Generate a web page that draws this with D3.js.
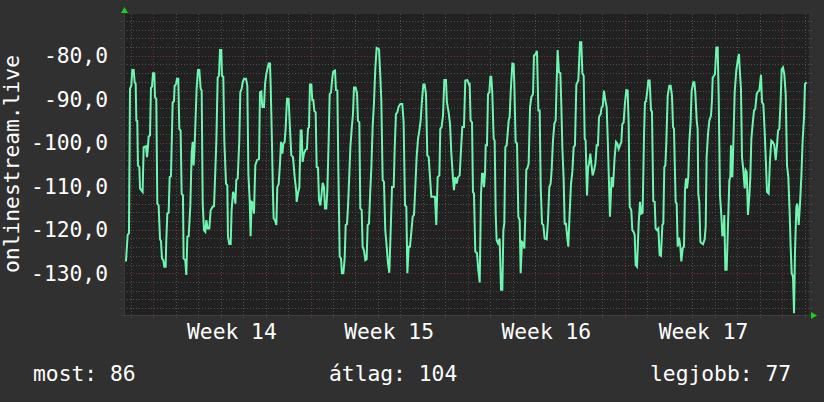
<!DOCTYPE html>
<html><head><meta charset="utf-8">
<script src="https://cdn.jsdelivr.net/npm/d3@7"></script>
<style>
html,body{margin:0;padding:0;background:#303030;}
svg{display:block;}
text{font-family:"DejaVu Sans Mono",monospace;fill:#ffffff;}
</style></head><body>
<svg id="c" width="824" height="402"></svg>
<script>
// ---- data ----
const yTicks = [-80, -90, -100, -110, -120, -130];
const weekStarts = [0, 168, 336, 504, 672];           // hours since start of Week 14
const weekLabels = ["Week 14", "Week 15", "Week 16", "Week 17"];
const yTitle = "onlinestream.live";
const summaryLabels = ["most", "átlag", "legjobb"];
const summaryValues = [86, 104, 77];
const timeDomain = [-31.3, 700.7];                    // hours
const valueDomain = [-139.6, -70.4];
// [hour, value]
const samples = [
[-29.2,-127.3],[-27.4,-121.2],[-26.0,-120.8],[-24.9,-87.6],[-23.5,-86.9],[-22.4,-83.3],[-21.0,-83.3],[-19.9,-86.1],[-18.8,-86.5],[-18.1,-94.9],[-17.1,-95.0],[-16.4,-105.2],[-14.9,-105.6],[-14.2,-110.5],[-11.4,-111.3],[-10.3,-101.0],[-7.8,-100.8],[-6.7,-103.3],[-5.7,-101.0],[-5.0,-98.6],[-3.5,-98.3],[-2.5,-87.4],[-1.4,-87.1],[-0.3,-84.0],[1.1,-84.0],[1.8,-89.5],[3.2,-89.9],[4.3,-114.0],[5.7,-114.4],[7.2,-122.2],[8.2,-122.6],[9.3,-126.6],[10.7,-127.0],[11.8,-128.5],[13.2,-128.5],[13.9,-122.4],[15.0,-116.3],[16.4,-116.1],[17.5,-107.9],[18.9,-107.7],[20.7,-90.7],[22.1,-90.5],[22.8,-86.9],[24.3,-86.5],[25.3,-85.3],[26.7,-85.3],[27.8,-96.8],[29.2,-97.2],[30.3,-111.7],[31.7,-112.1],[32.4,-126.6],[34.2,-127.0],[35.3,-130.4],[36.4,-121.6],[37.8,-121.5],[39.6,-114.4],[41.0,-102.5],[42.1,-99.8],[43.1,-105.2],[44.2,-100.6],[46.3,-87.6],[47.8,-83.3],[49.2,-83.3],[50.6,-87.6],[51.7,-88.0],[52.8,-114.0],[54.2,-120.1],[55.6,-120.5],[56.7,-117.8],[58.1,-119.7],[59.9,-119.7],[61.3,-115.5],[63.4,-114.7],[64.9,-114.6],[66.3,-106.3],[67.4,-99.5],[68.8,-85.0],[70.2,-84.6],[71.3,-78.7],[72.7,-78.7],[73.4,-84.6],[74.8,-84.8],[75.9,-99.5],[77.7,-109.4],[79.1,-109.8],[79.8,-121.6],[81.2,-123.3],[82.7,-123.3],[83.7,-115.5],[85.2,-111.3],[86.6,-112.1],[87.7,-114.0],[88.7,-108.6],[90.2,-108.2],[91.9,-99.5],[93.0,-88.4],[94.4,-87.6],[95.5,-86.1],[96.9,-85.3],[99.1,-85.3],[100.5,-86.9],[101.6,-107.1],[103.0,-113.2],[104.0,-121.5],[105.1,-113.6],[106.5,-113.8],[107.6,-116.3],[109.0,-105.2],[110.8,-104.0],[113.0,-103.7],[114.0,-88.4],[115.4,-88.2],[116.5,-91.8],[118.3,-91.8],[119.4,-86.5],[120.8,-84.2],[123.3,-81.8],[124.7,-81.8],[125.4,-86.5],[126.8,-99.8],[127.9,-111.7],[128.6,-117.4],[130.1,-117.8],[131.5,-118.9],[132.5,-110.2],[134.0,-109.5],[135.4,-104.8],[136.5,-99.8],[137.9,-102.5],[139.0,-100.2],[140.4,-99.8],[141.4,-96.8],[142.9,-89.9],[144.6,-89.9],[146.1,-96.8],[147.5,-102.9],[149.3,-103.3],[151.1,-107.9],[152.8,-111.3],
[153.2,-113.6],[154.6,-111.7],[156.1,-110.2],[157.5,-97.2],[158.5,-97.2],[159.6,-104.4],[161.0,-102.5],[162.8,-101.6],[164.2,-101.4],[165.3,-96.8],[166.4,-96.4],[167.4,-86.6],[168.9,-86.6],[169.9,-90.2],[171.0,-90.2],[172.1,-92.7],[173.5,-93.0],[174.6,-105.6],[176.0,-105.7],[177.1,-113.2],[178.5,-114.4],[179.6,-112.3],[181.0,-109.2],[182.4,-110.2],[183.5,-115.1],[184.9,-115.1],[186.0,-110.9],[187.4,-99.5],[188.5,-88.8],[189.9,-88.4],[191.3,-85.0],[192.4,-83.6],[194.2,-83.4],[195.2,-87.9],[196.7,-88.0],[197.7,-105.2],[199.2,-126.2],[200.6,-126.6],[201.6,-130.0],[203.1,-130.0],[204.5,-126.6],[205.6,-118.9],[207.0,-118.7],[208.1,-114.6],[209.5,-107.1],[210.6,-101.0],[212.0,-96.8],[213.4,-93.4],[214.5,-87.3],[216.2,-87.3],[217.7,-88.6],[218.7,-94.9],[220.2,-95.3],[221.2,-115.1],[222.7,-115.5],[223.7,-123.9],[225.2,-124.8],[226.6,-127.0],[228.0,-126.8],[229.1,-118.9],[230.5,-118.6],[231.9,-110.9],[233.0,-105.9],[234.4,-96.4],[235.8,-90.9],[237.3,-82.7],[238.7,-78.2],[241.2,-78.5],[242.6,-84.6],[243.7,-90.5],[245.1,-108.6],[246.5,-109.0],[247.9,-120.1],[249.4,-123.9],[250.8,-127.7],[252.2,-129.9],[253.6,-120.8],[255.1,-110.2],[256.9,-110.2],[257.9,-101.8],[259.3,-93.4],[260.8,-93.0],[262.2,-91.7],[264.0,-91.1],[266.1,-91.1],[267.5,-95.3],[269.0,-114.4],[270.4,-114.7],[271.5,-130.0],[272.9,-123.9],[274.3,-123.9],[277.2,-117.0],[278.6,-116.6],[280.0,-110.2],[281.4,-103.3],[282.9,-99.1],[284.3,-97.2],[285.7,-94.9],[287.1,-90.3],[288.6,-86.6],[290.0,-86.6],[291.4,-88.8],[292.8,-102.9],[294.3,-103.3],[295.7,-107.9],[297.1,-112.4],[301.0,-112.4],[302.4,-118.9],[303.9,-107.9],[305.7,-107.5],[306.7,-96.8],[308.1,-96.4],[309.6,-93.7],[311.0,-85.6],[312.8,-85.6],[313.8,-90.7],[315.6,-93.0],[317.1,-95.7],[318.5,-102.5],[320.3,-108.2],[321.3,-110.9],[322.7,-107.9],[324.2,-109.4],[325.6,-107.9],[327.4,-107.5],[328.8,-101.8],[330.2,-96.4],[332.0,-96.4],[333.4,-85.7],[335.6,-85.6],[337.4,-86.6],
[338.1,-86.5],[339.1,-94.9],[340.6,-95.3],[341.6,-111.3],[342.7,-111.7],[344.1,-125.0],[345.9,-125.4],[347.3,-129.2],[348.8,-132.1],[350.2,-111.7],[351.3,-107.1],[352.3,-107.1],[353.4,-110.2],[354.5,-107.1],[355.2,-100.6],[356.6,-100.6],[357.7,-88.8],[359.1,-88.4],[360.2,-84.8],[361.2,-84.8],[362.3,-88.8],[363.7,-99.1],[364.8,-99.5],[365.9,-116.3],[366.9,-122.4],[368.4,-123.1],[370.1,-122.0],[371.6,-133.8],[373.0,-133.8],[374.1,-120.1],[375.1,-118.6],[376.2,-101.0],[377.6,-100.6],[378.7,-97.8],[379.8,-94.9],[380.8,-94.1],[381.9,-88.4],[383.7,-81.8],[385.1,-81.9],[385.8,-86.5],[387.2,-99.8],[388.7,-100.2],[390.1,-117.0],[391.5,-117.8],[392.6,-130.0],[394.0,-122.8],[395.1,-123.0],[396.5,-124.3],[397.6,-116.3],[398.6,-106.2],[399.7,-105.9],[401.1,-104.8],[402.6,-91.8],[404.0,-89.5],[405.8,-88.8],[406.8,-80.0],[408.6,-79.6],[410.0,-78.9],[411.5,-92.6],[412.9,-92.6],[414.0,-110.2],[415.4,-118.6],[416.8,-118.9],[418.2,-122.0],[420.4,-122.2],[421.8,-117.8],[423.2,-110.2],[424.6,-109.4],[425.7,-106.3],[427.1,-99.5],[428.6,-95.6],[430.0,-94.9],[431.1,-85.7],[432.1,-78.7],[433.5,-83.8],[435.0,-84.0],[436.0,-91.1],[437.1,-101.0],[438.5,-108.2],[439.6,-118.6],[441.0,-118.6],[442.1,-121.2],[443.5,-123.9],[444.9,-116.3],[446.4,-109.4],[447.8,-106.7],[449.2,-101.0],[450.6,-100.6],[452.1,-86.6],[454.2,-85.7],[456.0,-76.9],[457.4,-76.9],[458.5,-84.0],[459.9,-84.6],[461.0,-99.1],[462.0,-99.5],[463.5,-112.1],[464.5,-105.9],[465.6,-104.8],[467.0,-102.5],[468.1,-104.8],[469.5,-107.5],[471.0,-106.3],[472.4,-104.8],[473.8,-100.6],[475.2,-100.6],[476.3,-94.1],[478.1,-93.4],[479.1,-91.8],[480.2,-91.7],[481.6,-88.0],[483.1,-90.3],[484.5,-91.8],[485.9,-101.0],[488.0,-117.0],[489.8,-107.9],[491.2,-110.2],[493.0,-103.3],[494.5,-99.8],[495.9,-100.2],[497.3,-101.4],[498.7,-100.6],[500.2,-99.8],[501.2,-95.7],[502.6,-95.3],[504.1,-90.7],[505.5,-87.9],[506.9,-88.0],[508.0,-95.7],[509.1,-114.7],[510.8,-115.5],[511.9,-120.1],[513.3,-120.5],[514.4,-121.2],[515.5,-128.1],[516.9,-128.5],[518.7,-118.6],[520.1,-113.6],
[521.5,-116.3],[522.9,-116.1],[524.4,-98.3],[525.4,-90.7],[526.5,-90.5],[527.9,-88.0],[529.0,-85.7],[530.4,-85.7],[531.9,-92.6],[532.9,-92.8],[534.3,-113.4],[535.8,-113.6],[536.8,-119.7],[538.3,-120.1],[539.7,-119.7],[541.1,-125.8],[542.5,-126.0],[544.0,-118.9],[545.0,-118.6],[546.1,-105.6],[547.2,-105.2],[548.2,-100.2],[549.7,-89.2],[551.4,-86.9],[552.9,-86.9],[554.3,-89.2],[555.4,-96.4],[556.4,-96.8],[558.2,-113.6],[559.3,-114.0],[560.4,-123.9],[561.8,-121.8],[563.2,-123.9],[564.3,-127.3],[565.7,-124.3],[567.1,-123.9],[568.2,-110.9],[569.3,-108.2],[570.3,-110.5],[571.7,-107.9],[572.8,-99.8],[574.2,-95.3],[575.3,-88.0],[577.1,-86.1],[578.2,-86.1],[579.2,-88.4],[580.7,-94.9],[581.7,-96.8],[582.4,-111.7],[583.5,-113.8],[584.6,-122.8],[586.0,-123.1],[587.4,-123.3],[589.2,-122.2],[590.3,-119.3],[591.3,-103.3],[592.8,-97.9],[594.2,-94.9],[596.0,-93.7],[597.0,-90.3],[597.8,-85.0],[599.2,-84.6],[600.2,-84.2],[601.7,-78.1],[603.1,-78.1],[604.2,-89.5],[605.6,-112.1],[607.0,-116.6],[608.1,-121.5],[609.2,-120.8],[610.2,-116.6],[611.3,-129.2],[612.7,-129.2],[614.1,-119.3],[615.6,-108.6],[616.6,-107.9],[617.3,-100.6],[618.8,-107.9],[619.8,-100.6],[621.3,-88.4],[623.0,-83.4],[624.5,-81.1],[625.9,-79.6],[626.6,-82.8],[628.0,-87.6],[629.1,-103.3],[630.5,-106.3],[632.0,-110.5],[633.0,-106.3],[634.1,-106.7],[635.5,-116.6],[636.9,-112.4],[638.0,-107.9],[639.1,-99.1],[640.5,-95.7],[641.9,-92.6],[643.3,-92.2],[644.8,-88.8],[646.2,-88.2],[647.6,-88.0],[649.4,-84.4],[650.5,-90.7],[651.9,-91.1],[653.3,-97.2],[654.7,-104.8],[655.8,-111.3],[657.6,-111.7],[659.0,-104.0],[660.4,-99.5],[661.9,-99.8],[663.6,-100.6],[665.1,-104.0],[666.5,-100.6],[667.6,-97.2],[669.0,-96.8],[670.4,-90.3],[671.5,-83.1],[672.9,-82.7],[674.3,-84.2],[675.8,-88.8],[677.2,-105.2],[678.6,-107.9],[680.0,-115.9],[681.1,-123.9],[682.2,-130.0],[683.6,-130.8],[684.7,-139.2],[685.7,-125.4],[687.2,-114.7],[688.2,-114.0],[689.7,-118.9],[691.1,-114.0],[692.5,-107.9],[693.9,-99.5],[695.4,-94.1],[696.4,-86.5],[698.2,-86.1]
];

// ---- layout ----
const plot = {left: 124, right: 809, top: 14, bottom: 315};
const svg = d3.select("#c");
svg.append("rect").attr("width", 824).attr("height", 402).attr("fill", "#303030");

const x = d3.scaleLinear().domain(timeDomain).range([plot.left, plot.right]);
const y = d3.scaleLinear().domain(valueDomain).range([plot.bottom, plot.top]);

svg.append("rect").attr("x", plot.left).attr("y", plot.top)
  .attr("width", plot.right - plot.left).attr("height", plot.bottom - plot.top)
  .attr("fill", "#212121");

const grid = svg.append("g").attr("shape-rendering", "crispEdges");
const minorColor = "#4e4e4e", majorColor = "#6e3434";
const dash = "1,2";

// minor horizontal lines every 2 units
const minorY = d3.range(-138, -70, 2).filter(v => !yTicks.includes(v));
grid.selectAll(".hmin").data(minorY).join("line")
  .attr("x1", plot.left - 3).attr("x2", plot.right + 3)
  .attr("y1", d => Math.round(y(d)) + 0.5).attr("y2", d => Math.round(y(d)) + 0.5)
  .attr("stroke", minorColor).attr("stroke-dasharray", dash);
// minor vertical lines every 24 h
const minorX = d3.range(-24, 700, 24).filter(h => !weekStarts.includes(h));
grid.selectAll(".vmin").data(minorX).join("line")
  .attr("y1", plot.top).attr("y2", plot.bottom + 3)
  .attr("x1", d => Math.round(x(d)) + 0.5).attr("x2", d => Math.round(x(d)) + 0.5)
  .attr("stroke", minorColor).attr("stroke-dasharray", dash);
// major lines
grid.selectAll(".hmaj").data(yTicks).join("line")
  .attr("x1", plot.left - 3).attr("x2", plot.right + 3)
  .attr("y1", d => Math.round(y(d)) + 0.5).attr("y2", d => Math.round(y(d)) + 0.5)
  .attr("stroke", majorColor).attr("stroke-dasharray", dash);
grid.selectAll(".vmaj").data(weekStarts).join("line")
  .attr("y1", plot.top).attr("y2", plot.bottom + 3)
  .attr("x1", d => Math.round(x(d)) + 0.5).attr("x2", d => Math.round(x(d)) + 0.5)
  .attr("stroke", majorColor).attr("stroke-dasharray", dash);

// axis lines
grid.append("line").attr("x1", plot.left - 3).attr("x2", plot.right + 2)
  .attr("y1", plot.bottom + 0.5).attr("y2", plot.bottom + 0.5).attr("stroke", "#3f3f3f");
grid.append("line").attr("x1", plot.left + 0.5).attr("x2", plot.left + 0.5)
  .attr("y1", plot.top - 2).attr("y2", plot.bottom + 3).attr("stroke", "#3a3a3a");

// arrows
svg.append("polygon").attr("fill", "#19d219")
  .attr("points", `${plot.left - 3},${plot.top - 1} ${plot.left + 4},${plot.top - 1} ${plot.left + 0.5},${plot.top - 7}`);
svg.append("polygon").attr("fill", "#19d219")
  .attr("points", `${plot.right + 2},${plot.bottom - 3} ${plot.right + 2},${plot.bottom + 4} ${plot.right + 8},${plot.bottom + 0.5}`);

// line
svg.append("defs").append("clipPath").attr("id", "clip").append("rect")
  .attr("x", plot.left).attr("y", plot.top - 1)
  .attr("width", plot.right - plot.left).attr("height", plot.bottom - plot.top + 1);
const line = d3.line().x(d => x(d[0])).y(d => y(d[1]));
svg.append("path").datum(samples).attr("d", line)
  .attr("fill", "none").attr("stroke", "#6ef5b0").attr("stroke-width", 2)
  .attr("stroke-linejoin", "miter").attr("clip-path", "url(#clip)");

// y labels
const fmt = v => d3.format(".1f")(v).replace("−", "-").replace(".", ",");
svg.selectAll(".ylab").data(yTicks).join("text")
  .attr("x", 108).attr("y", d => y(d) + 7.7)
  .attr("text-anchor", "end").attr("font-size", "21.3px")
  .text(d => fmt(d));

// y title
svg.append("text").attr("transform", "translate(18.5,273) rotate(-90)")
  .attr("font-size", "21.3px").text(yTitle);

// week labels
svg.selectAll(".wk").data(weekLabels).join("text")
  .attr("x", (d, i) => x((weekStarts[i] + weekStarts[i + 1]) / 2))
  .attr("y", 339).attr("text-anchor", "middle").attr("font-size", "21.3px")
  .text(d => d);

// summary
const sumX = [33, 329, 650];
svg.selectAll(".sum").data(summaryLabels).join("text")
  .attr("x", (d, i) => sumX[i]).attr("y", 381).attr("font-size", "21.3px")
  .text((d, i) => `${d}: ${summaryValues[i]}`);
</script>
</body></html>
